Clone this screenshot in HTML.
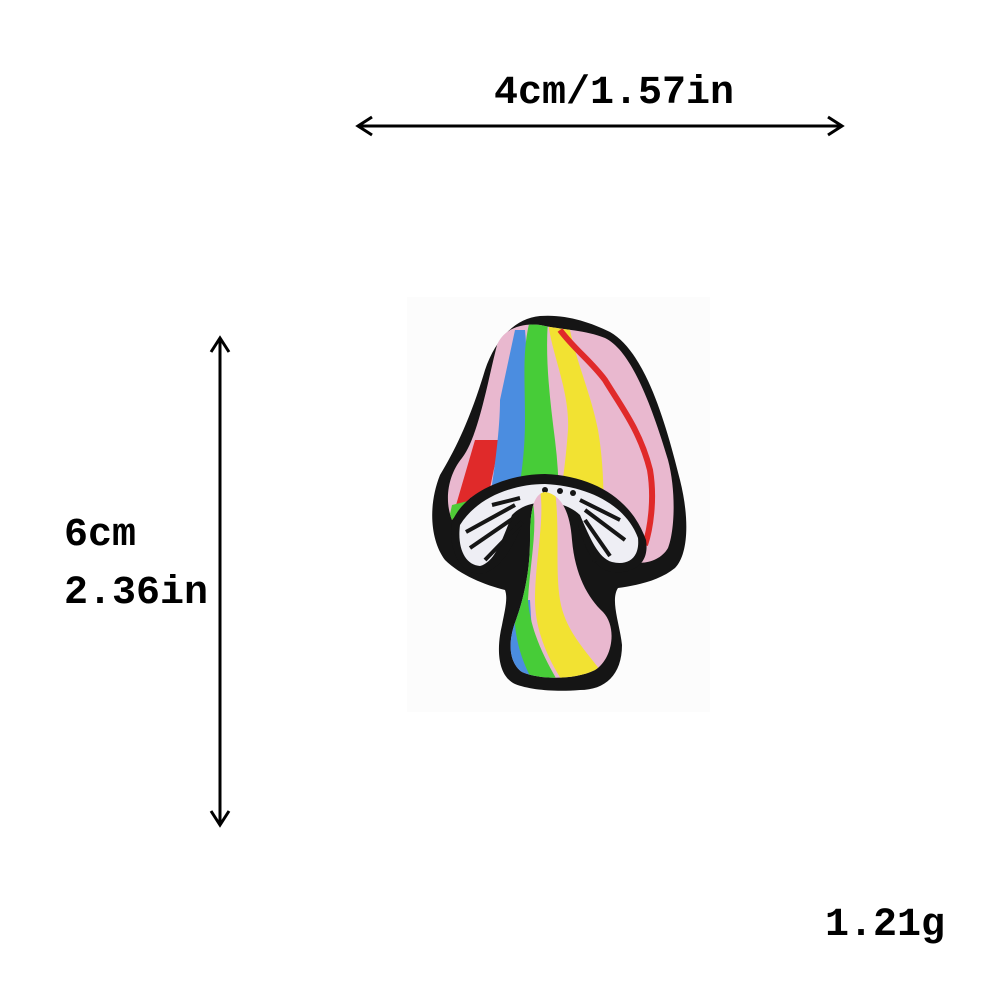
<!DOCTYPE html>
<html><head><meta charset="utf-8"><style>
html,body{margin:0;padding:0;background:#fff;width:1000px;height:1000px;overflow:hidden}
svg{display:block}
text{font-family:"Liberation Mono",monospace;font-weight:bold;font-size:40px;fill:#000}
</style></head><body>
<svg width="1000" height="1000" viewBox="0 0 1000 1000">
<defs>
<clipPath id="capClip"><path d="M497,345 C505,325 530,322 545,326 C565,330 585,330 605,338 C630,350 650,400 668,460 C676,490 675,530 668,548 C660,562 640,566 630,560 L560,490 C540,482 500,478 470,498 L452,520 C444,500 448,475 462,458 C478,438 488,380 497,345 Z"/></clipPath>
<clipPath id="stemClip"><path d="M545,492 C560,494 570,510 572,540 C575,575 588,598 603,612 C618,628 612,660 595,670 C575,680 540,680 522,672 C508,662 508,640 516,620 C524,598 530,570 530,540 C530,515 532,494 545,492 Z"/></clipPath>
</defs>
<rect x="407" y="297" width="303" height="415" fill="#fcfcfc"/>
<g stroke="#000" stroke-width="3" fill="none">
<line x1="358" y1="126" x2="842" y2="126"/>
<polyline points="372,117 358,126 372,135"/>
<polyline points="828,117 842,126 828,135"/>
</g>
<text x="494" y="103">4cm/1.57in</text>
<g stroke="#000" stroke-width="3" fill="none">
<line x1="220" y1="338" x2="220" y2="825"/>
<polyline points="211,352 220,338 229,352"/>
<polyline points="211,811 220,825 229,811"/>
</g>
<text x="64" y="545">6cm</text>
<text x="64" y="603">2.36in</text>
<text x="825" y="935">1.21g</text>
<g>
<path d="M540,316 C565,314 590,322 610,332 C645,352 665,420 680,480 C690,520 688,555 675,568 C660,580 640,585 618,588 C610,600 620,625 622,645 C622,675 605,690 580,690 C555,692 530,690 515,684 C498,676 496,650 502,625 C505,610 508,598 505,590 C485,585 460,575 445,560 C430,540 428,505 440,475 C455,450 470,420 485,370 C495,340 515,318 540,316 Z" fill="#151515"/>
<g clip-path="url(#capClip)">
<rect x="430" y="300" width="260" height="280" fill="#e9b8cf"/>
<path d="M440,560 L475,440 L500,440 L475,560 Z" fill="#e02a2a"/>
<path d="M440,560 L452,505 L472,500 L462,560 Z" fill="#4fcc36"/>
<path d="M480,560 C490,500 500,440 500,400 L515,330 L525,330 C530,380 520,420 530,470 L520,560 Z" fill="#4b8de0"/>
<path d="M500,560 C515,520 525,470 525,420 C525,380 522,350 530,320 L548,320 C545,360 550,400 555,440 C560,480 560,520 555,560 Z" fill="#47cc38"/>
<path d="M545,560 C560,510 565,470 568,430 C570,390 550,350 548,320 L568,320 C575,360 590,390 598,430 C605,470 605,520 600,560 Z" fill="#f2e232"/>
<path d="M560,330 C575,350 590,360 605,380 C620,405 640,430 650,470 C655,500 650,530 645,545" stroke="#e02a2a" stroke-width="6" fill="none"/>
</g>
<path d="M452,522 C465,490 510,474 545,474 C595,476 632,500 646,540 C650,565 632,574 612,572 C595,570 585,550 578,525 L522,525 C512,550 498,572 480,574 C460,574 448,550 452,522 Z" fill="#151515"/>
<path d="M460,525 C478,496 515,484 545,484 C588,486 626,505 638,538 C640,558 628,566 612,562 C598,558 590,538 580,515 C562,498 528,498 512,515 C502,540 495,562 480,566 C465,565 457,548 460,525 Z" fill="#eeeef4"/>
<g stroke="#151515" stroke-width="4" fill="none">
<path d="M466,532 L515,505"/><path d="M470,548 L518,515"/><path d="M485,560 L522,522"/><path d="M492,505 L520,498"/>
<path d="M580,500 L620,520"/><path d="M585,510 L625,540"/><path d="M585,520 L610,556"/><path d="M582,530 L595,562"/>
</g>
<g fill="#151515"><circle cx="545" cy="490" r="3"/><circle cx="560" cy="491" r="3"/><circle cx="573" cy="493" r="3"/></g>
<g clip-path="url(#stemClip)">
<rect x="500" y="485" width="120" height="200" fill="#e9b8cf"/>
<path d="M500,600 L530,600 L535,685 L500,685 Z" fill="#4b8de0"/>
<path d="M530,490 C540,520 530,560 528,600 C530,630 545,660 560,685 L535,685 C520,660 512,630 515,600 C518,560 525,520 530,490 Z" fill="#47cc38"/>
<path d="M540,490 L555,490 C560,530 555,570 560,600 C565,630 585,650 600,670 L565,685 C548,660 535,630 535,600 C535,560 545,520 540,490 Z" fill="#f2e232"/>
</g>
</g>
</svg>
</body></html>
